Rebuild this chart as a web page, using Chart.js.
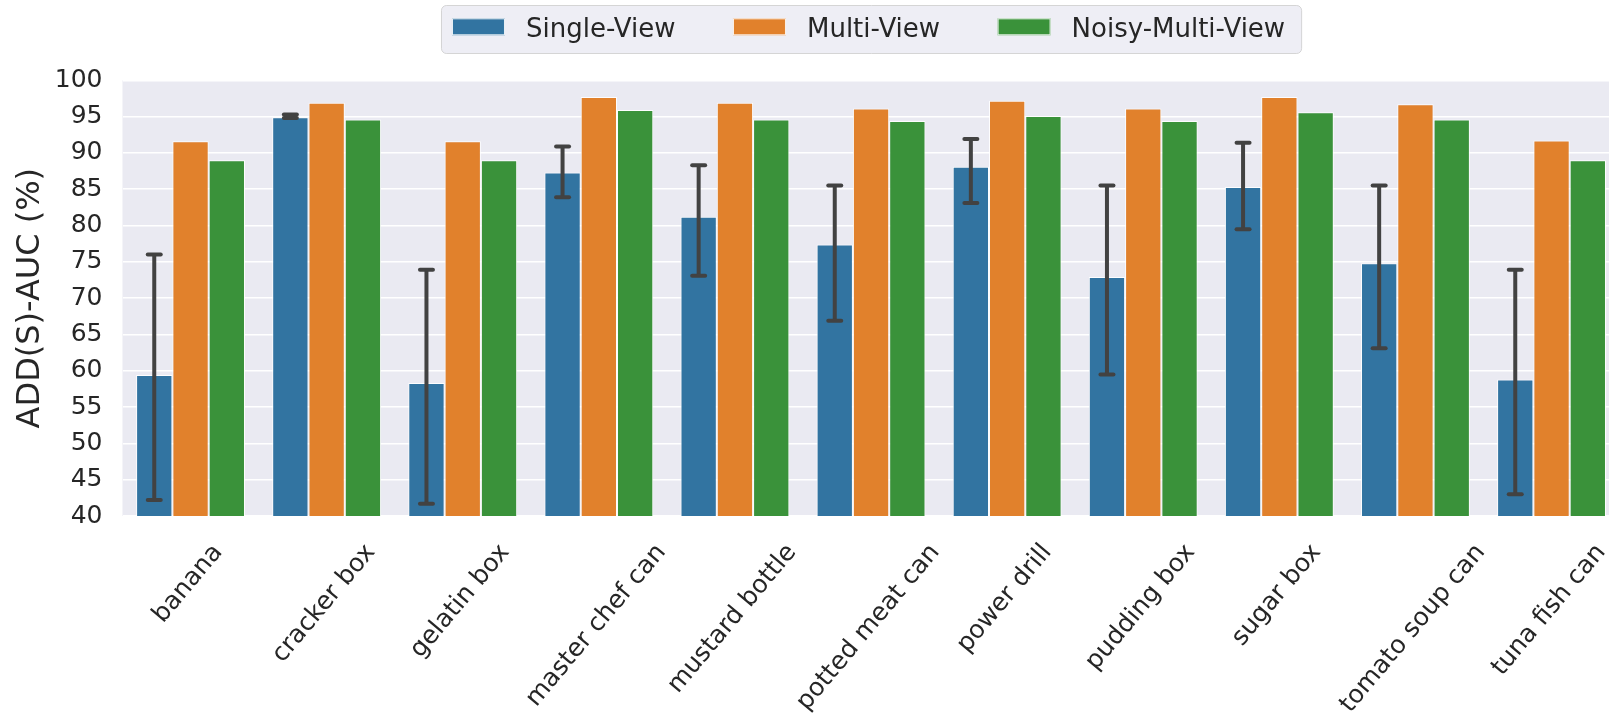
<!DOCTYPE html>
<html>
<head>
<meta charset="utf-8">
<script src="https://cdn.jsdelivr.net/npm/chart.js@4/dist/chart.umd.min.js"></script>
<style>
  html, body { margin: 0; padding: 0; background: #ffffff; overflow: hidden; }
  #wrap { position: relative; width: 1640px; height: 721px; }
</style>
</head>
<body>
<div id="wrap"><canvas id="chart"></canvas></div>
<script>
// Object categories along the x axis
const categories = [
  'banana', 'cracker box', 'gelatin box', 'master chef can', 'mustard bottle',
  'potted meat can', 'power drill', 'pudding box', 'sugar box', 'tomato soup can', 'tuna fish can'
];

// Series names (legend order)
const seriesNames = ['Single-View', 'Multi-View', 'Noisy-Multi-View'];

// ADD(S)-AUC (%) per object
const singleView     = [59.4, 94.9, 58.3, 87.3, 81.2, 77.4, 88.1, 72.9, 85.3, 74.8, 58.8];
const singleViewLow  = [42.2, 94.8, 41.7, 83.9, 73.1, 66.9, 83.1, 59.5, 79.5, 63.1, 43.0];
const singleViewHigh = [76.0, 95.3, 73.9, 90.9, 88.3, 85.5, 91.9, 85.5, 91.4, 85.5, 73.9];
const multiView      = [91.6, 96.9, 91.6, 97.7, 96.9, 96.1, 97.2, 96.1, 97.7, 96.7, 91.7];
const noisyMultiView = [89.0, 94.6, 89.0, 95.9, 94.6, 94.4, 95.1, 94.4, 95.6, 94.6, 89.0];

// Y axis tick values
const yTicks = [40, 45, 50, 55, 60, 65, 70, 75, 80, 85, 90, 95, 100];

const palette = ['#3274A1', '#E1812C', '#3A923A'];
const textColor = '#262626';
const FONT = '"DejaVu Sans", "Liberation Sans", sans-serif';
const TICK_SIZE = 25;
const LABEL_ANGLE = 50; // degrees

// Grey plot background behind the grid
const plotBackground = {
  id: 'plotBackground',
  beforeDraw(chart) {
    const { ctx, chartArea: a } = chart;
    ctx.save();
    ctx.fillStyle = '#EAEAF2';
    ctx.fillRect(a.left, a.top, a.right - a.left, a.bottom - a.top);
    ctx.restore();
  }
};

// Confidence interval whiskers on the Single-View bars
const errorBars = {
  id: 'errorBars',
  afterDatasetsDraw(chart) {
    const ctx = chart.ctx;
    const y = chart.scales.y;
    const meta = chart.getDatasetMeta(0);
    ctx.save();
    ctx.strokeStyle = '#424242';
    ctx.lineWidth = 4;
    meta.data.forEach((bar, i) => {
      const x = bar.x;
      const yLo = y.getPixelForValue(singleViewLow[i]);
      const yHi = y.getPixelForValue(singleViewHigh[i]);
      ctx.lineCap = 'butt';
      ctx.beginPath();
      ctx.moveTo(x, yLo);
      ctx.lineTo(x, yHi);
      ctx.stroke();
      ctx.lineCap = 'round';
      [yLo, yHi].forEach(py => {
        ctx.beginPath();
        ctx.moveTo(x - 6.5, py);
        ctx.lineTo(x + 6.5, py);
        ctx.stroke();
      });
    });
    ctx.restore();
  }
};

// Category labels rotated, centred under each group
const rotatedCategoryLabels = {
  id: 'rotatedCategoryLabels',
  afterDraw(chart) {
    const ctx = chart.ctx;
    const xs = chart.scales.x;
    const top = chart.chartArea.bottom + 32;
    const ang = LABEL_ANGLE * Math.PI / 180;
    ctx.save();
    ctx.font = TICK_SIZE + 'px ' + FONT;
    ctx.fillStyle = textColor;
    ctx.textAlign = 'center';
    ctx.textBaseline = 'middle';
    categories.forEach((label, i) => {
      const w = ctx.measureText(label).width;
      const px = xs.getPixelForTick(i) - 2.5;
      const py = top + w * Math.sin(ang) / 2;
      ctx.save();
      ctx.translate(px, py);
      ctx.rotate(-ang);
      ctx.fillText(label, 0, 0);
      ctx.restore();
    });
    ctx.restore();
  }
};

// Framed three-column legend above the plot
const framedLegend = {
  id: 'framedLegend',
  afterDraw(chart) {
    const ctx = chart.ctx;
    const a = chart.chartArea;
    ctx.save();
    ctx.font = '26px ' + FONT;
    const widths = seriesNames.map(n => ctx.measureText(n).width);
    const padL = 11, padR = 16, patchW = 53, patchH = 17, gap = 21, colGap = 57.5;
    const total = padL + padR + colGap * (seriesNames.length - 1) +
      widths.reduce((s, w) => s + patchW + gap + w, 0);
    const x0 = (a.left + a.right) / 2 - total / 2;
    const y0 = 5, h = 48;

    ctx.beginPath();
    ctx.roundRect(x0 + 0.5, y0 + 0.5, total, h, 5);
    ctx.fillStyle = 'rgba(234,234,242,0.8)';
    ctx.fill();
    ctx.lineWidth = 1;
    ctx.strokeStyle = 'rgba(204,204,204,0.8)';
    ctx.stroke();

    let x = x0 + padL;
    seriesNames.forEach((name, i) => {
      ctx.fillStyle = palette[i];
      ctx.fillRect(x, 18.3, patchW, patchH);
      ctx.strokeStyle = 'rgba(255,255,255,0.9)';
      ctx.lineWidth = 1;
      ctx.strokeRect(x + 0.5, 18.8, patchW - 1, patchH - 1);
      x += patchW + gap;
      ctx.fillStyle = textColor;
      ctx.textAlign = 'left';
      ctx.textBaseline = 'alphabetic';
      ctx.fillText(name, x, 37);
      x += widths[i] + colGap;
    });
    ctx.restore();
  }
};

const seriesValues = [singleView, multiView, noisyMultiView];

new Chart(document.getElementById('chart'), {
  type: 'bar',
  data: {
    labels: categories,
    datasets: seriesNames.map((name, i) => ({
      label: name,
      data: seriesValues[i],
      backgroundColor: palette[i],
      borderColor: 'rgba(255,255,255,0.9)',
      borderWidth: 1,
      categoryPercentage: 0.8,
      barPercentage: 1.0
    }))
  },
  options: {
    responsive: true,
    maintainAspectRatio: false,
    animation: false,
    events: [],
    layout: { padding: { top: 80.3, left: 0, right: 20.4, bottom: 0 } },
    plugins: {
      legend: { display: false },
      tooltip: { enabled: false }
    },
    scales: {
      x: {
        grid: { display: false },
        border: { display: false },
        ticks: { display: false },
        afterFit(scale) { scale.height = 205; }
      },
      y: {
        min: 40,
        max: 100,
        afterBuildTicks(scale) { scale.ticks = yTicks.map(v => ({ value: v })); },
        afterFit(scale) { scale.width = 122.5; },
        grid: { color: '#ffffff', lineWidth: 1.6, drawTicks: false },
        border: { display: false },
        ticks: {
          padding: 20,
          color: textColor,
          font: { family: FONT, size: TICK_SIZE }
        },
        title: {
          display: true,
          text: 'ADD(S)-AUC (%)',
          color: textColor,
          font: { family: FONT, size: 32 },
          padding: { top: 11.3, bottom: 0 }
        }
      }
    }
  },
  plugins: [plotBackground, errorBars, rotatedCategoryLabels, framedLegend]
});
</script>
</body>
</html>
